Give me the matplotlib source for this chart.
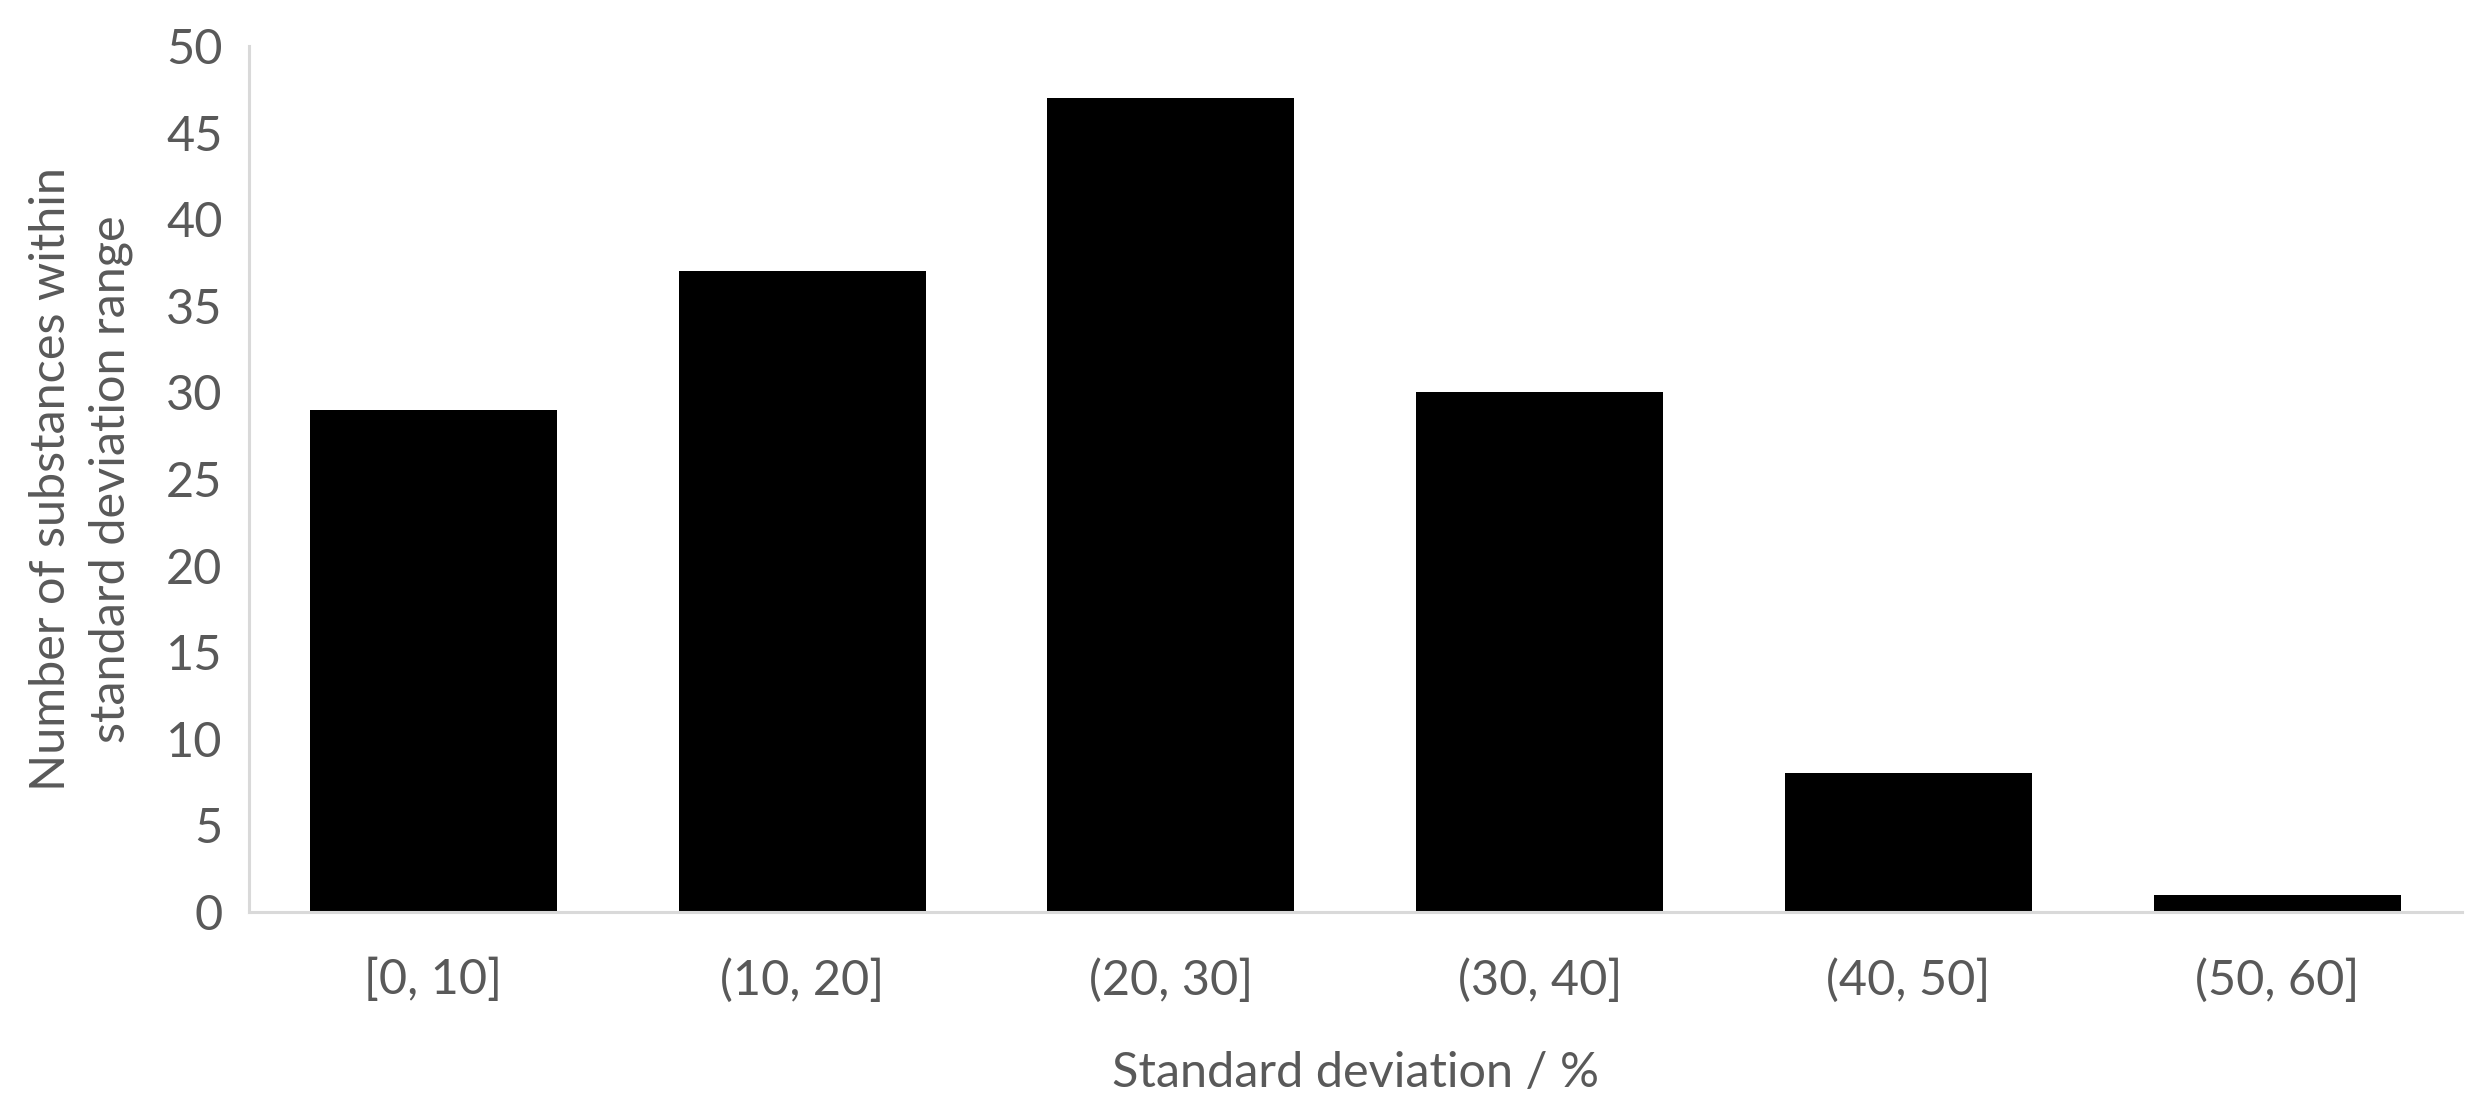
import matplotlib
matplotlib.use("Agg")
import matplotlib.pyplot as plt
import numpy as np

categories = ["[0, 10]", "(10, 20]", "(20, 30]", "(30, 40]", "(40, 50]", "(50, 60]"]
counts = [29, 37, 47, 30, 8, 1]
yticks = [0, 5, 10, 15, 20, 25, 30, 35, 40, 45, 50]

plt.rcParams['font.family'] = ['Lato', 'DejaVu Sans']
text_color = "#595959"
axis_color = "#D9D9D9"

fig = plt.figure(figsize=(24.84, 11.17), dpi=100)
ax = fig.add_axes([0.1002, 0.1835, 0.8908, 0.7753])

x = np.arange(len(categories))
ax.bar(x, counts, width=0.67, color="black")
ax.set_xlim(-0.5, len(categories) - 0.5)
ax.set_ylim(0, 50)
ax.set_xticks(x)
ax.set_xticklabels(categories)
ax.set_yticks(yticks)

for s in ["top", "right"]:
    ax.spines[s].set_visible(False)
for s in ["left", "bottom"]:
    ax.spines[s].set_color(axis_color)
    ax.spines[s].set_linewidth(2.2)

ax.tick_params(axis="both", length=0, labelsize=35, colors=text_color)
ax.tick_params(axis="x", pad=33)
ax.tick_params(axis="y", pad=19)

ax.set_xlabel("Standard deviation / %", fontsize=35, color=text_color, labelpad=35)
ax.set_ylabel("Number of substances within\nstandard deviation range", fontsize=35,
              color=text_color, labelpad=24, linespacing=1.42)

fig.savefig("out.png", dpi=100, facecolor="white")
